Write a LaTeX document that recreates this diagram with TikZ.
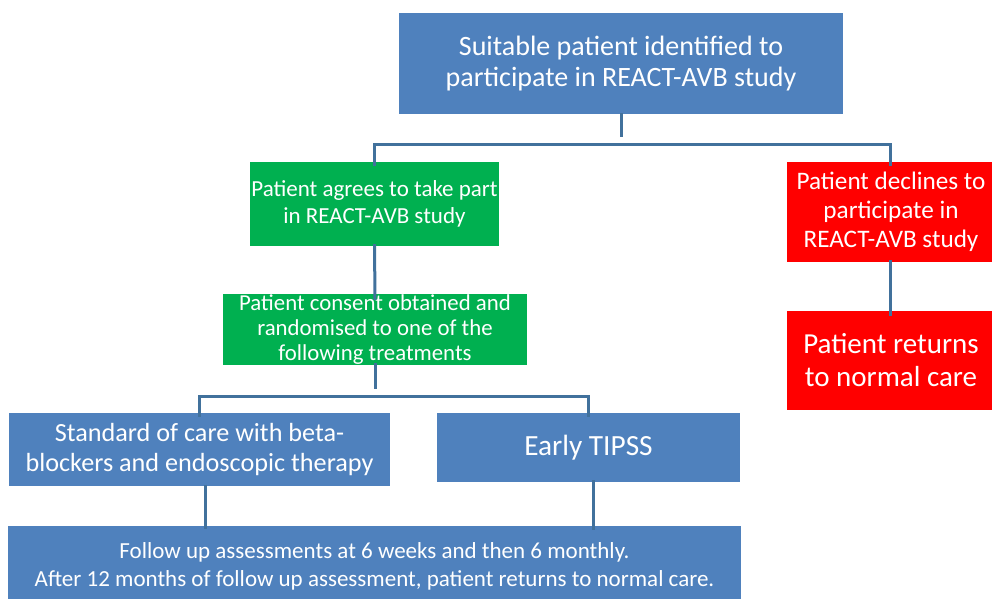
\documentclass[tikz,border=0pt]{standalone}
\usepackage{fontspec}
\setmainfont{Carlito}
\definecolor{boxblue}{HTML}{4F81BD}
\definecolor{boxgreen}{HTML}{00B050}
\definecolor{boxred}{HTML}{FF0000}
\definecolor{linkblue}{HTML}{41719C}
\begin{document}
\begin{tikzpicture}[x=1pt,y=-1pt,
  box/.style={rectangle, inner sep=0pt, text=white, align=center, draw=none},
  bluebox/.style={box, fill=boxblue},
  greenbox/.style={box, fill=boxgreen},
  redbox/.style={box, fill=boxred},
  link/.style={draw=linkblue, line width=3pt}]
\useasboundingbox (0,0) rectangle (992,598);
\fill[white] (0,0) rectangle (992,598);
\node[bluebox, minimum width=444pt, minimum height=101pt, font=\fontsize{28}{31}\selectfont] (top) at (621,63.5) {Suitable patient identified to\\participate in REACT-AVB study};
\node[greenbox, minimum width=249pt, minimum height=84pt, font=\fontsize{23}{27}\selectfont] (g1) at (374.5,204) {Patient agrees to take part\\in REACT-AVB study};
\node[greenbox, minimum width=304pt, minimum height=71pt, font=\fontsize{22.8}{25}\selectfont] (g2) at (375,329.5) {Patient consent obtained and\\randomised to one of the\\following treatments};
\node[redbox, minimum width=208pt, minimum height=100pt, font=\fontsize{25.2}{29}\selectfont] (r1) at (891,212) {Patient declines to\\participate in\\REACT-AVB study};
\node[redbox, minimum width=208pt, minimum height=99pt, font=\fontsize{29}{33}\selectfont] (r2) at (891,360.5) {Patient returns\\to normal care};
\node[bluebox, minimum width=381pt, minimum height=73pt, font=\fontsize{26.2}{30}\selectfont] (std) at (199.5,449.5) {Standard of care with beta-\\blockers and endoscopic therapy};
\node[bluebox, minimum width=303pt, minimum height=69pt, font=\fontsize{29.3}{30}\selectfont] (tipss) at (588.5,447.5) {Early TIPSS};
\node[bluebox, minimum width=733pt, minimum height=80pt, font=\fontsize{23}{28}\selectfont] (fu) at (374.5,566) {Follow up assessments at 6 weeks and then 6 monthly.\\After 12 months of follow up assessment, patient returns to normal care.};
\coordinate (j1) at (621,137);
\coordinate (j2) at (375,389);
\draw[link] ([yshift=1pt]top.south) -- (j1);
\draw[link] ([yshift=-4pt]g1.north) -- ++(0,-21) -| ([xshift=-1pt,yshift=-4pt]r1.north);
\draw[link] ([yshift=2pt]g1.south) -- ([yshift=-6pt]g2.north);
\draw[link] ([xshift=-1pt,yshift=2pt]r1.south) -- ([xshift=-1pt,yshift=-5pt]r2.north);
\draw[link] ([yshift=2pt]g2.south) -- (j2);
\draw[link] ([yshift=-4pt]std.north) -- ++(0,-20) -| ([yshift=-4pt]tipss.north);
\draw[link] ([xshift=5.5pt,yshift=1pt]std.south) -- ([xshift=5.5pt,yshift=-3pt]std.south |- fu.north);
\draw[link] ([xshift=4.5pt,yshift=2pt]tipss.south) -- ([xshift=4.5pt,yshift=-4pt]tipss.south |- fu.north);
\end{tikzpicture}
\end{document}
